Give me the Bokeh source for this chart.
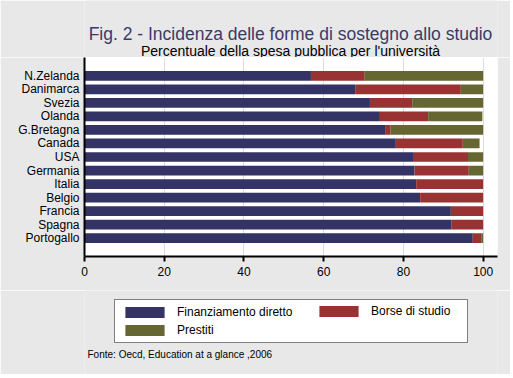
from bokeh.plotting import figure
from bokeh.layouts import column
from bokeh.models import (ColumnDataSource, FactorRange, Range1d, FixedTicker, Label,
                          Legend, LegendItem)
from bokeh.embed import file_html
from bokeh.resources import INLINE

countries = ["N.Zelanda", "Danimarca", "Svezia", "Olanda", "G.Bretagna", "Canada", "USA",
             "Germania", "Italia", "Belgio", "Francia", "Spagna", "Portogallo"]
finanziamento = [56.8, 67.9, 71.6, 74.1, 75.4, 78.1, 82.4, 82.8, 83.2, 84.2, 91.9, 92.1, 97.4]
borse = [13.5, 26.5, 10.6, 12.1, 1.4, 16.8, 13.8, 13.6, 16.8, 15.8, 8.1, 7.9, 2.1]
prestiti = [29.7, 5.6, 17.8, 13.6, 23.2, 4.2, 3.8, 3.6, 0.0, 0.0, 0.0, 0.0, 0.5]
series = ["Finanziamento diretto", "Borse di studio", "Prestiti"]
colors = ["#333366", "#993333", "#666633"]
x_ticks = [0, 20, 40, 60, 80, 100]

FONT = "Liberation Sans"
BG = "#e8e8e8"
W = 510
LEFT = 84
RIGHT = 13


def blank(height):
    f = figure(width=W, height=height, output_backend="svg", toolbar_location=None,
               x_range=Range1d(0, 1), y_range=Range1d(0, 1),
               x_axis_location=None, y_axis_location=None,
               min_border_left=LEFT, min_border_right=RIGHT, min_border_top=0,
               min_border_bottom=0)
    f.background_fill_color = BG
    f.border_fill_color = BG
    f.outline_line_color = None
    f.xgrid.grid_line_color = None
    f.ygrid.grid_line_color = None
    return f


# ---- header -------------------------------------------------------------
top = blank(57)
top.add_layout(Label(x=206, y=24, x_units="screen", y_units="screen",
                     text="Fig. 2 - Incidenza delle forme di sostegno allo studio",
                     text_align="center", text_baseline="alphabetic",
                     text_font=FONT, text_font_size="17.5px", text_color="#3a3a6a"))
top.add_layout(Label(x=206, y=7, x_units="screen", y_units="screen",
                     text="Percentuale della spesa pubblica per l'università",
                     text_align="center", text_baseline="alphabetic",
                     text_font=FONT, text_font_size="14px", text_color="black"))

# ---- main chart -----------------------------------------------------------
source = ColumnDataSource(dict(country=countries, fin=finanziamento, bor=borse, pre=prestiti))
stackers = ["fin", "bor", "pre"]

p = figure(width=W, height=233, output_backend="svg", toolbar_location=None,
           y_range=FactorRange(factors=list(reversed(countries)), range_padding=0.85,
                               range_padding_units="absolute"),
           x_range=Range1d(0, 103.6),
           min_border_left=LEFT, min_border_right=RIGHT, min_border_top=0,
           min_border_bottom=34)
p.background_fill_color = "white"
p.border_fill_color = BG
p.outline_line_color = None

p.hbar_stack(stackers, y="country", height=0.72, color=colors,
             line_color=None, source=source)

p.xaxis.ticker = FixedTicker(ticks=x_ticks)
p.xaxis.axis_line_color = "black"
p.xaxis.axis_line_width = 2
p.xaxis.major_tick_out = 5
p.xaxis.major_tick_in = 0
p.xaxis.major_tick_line_width = 2
p.xaxis.minor_tick_line_color = None
p.xaxis.major_label_text_font = FONT
p.xaxis.major_label_text_font_size = "12px"
p.xaxis.major_label_text_color = "black"
p.xaxis.major_label_standoff = 5

p.yaxis.axis_line_color = "black"
p.yaxis.axis_line_width = 2
p.yaxis.major_tick_line_color = None
p.yaxis.major_tick_out = 0
p.yaxis.major_tick_in = 0
p.yaxis.minor_tick_line_color = None
p.yaxis.major_label_text_font = FONT
p.yaxis.major_label_text_font_size = "12px"
p.yaxis.major_label_text_color = "black"
p.yaxis.major_label_standoff = 5

p.xgrid.grid_line_color = "#dcdcdc"
p.ygrid.grid_line_color = None

# ---- footer: legend and source --------------------------------------------
bottom = blank(84)
# hidden copies of the series, used only as legend glyph sources
proxies = bottom.hbar_stack(stackers, y="country", height=0.72, color=colors,
                            line_color=None, source=source)
for r in proxies:
    r.visible = False

common = dict(padding=5, spacing=4, margin=0, label_standoff=8, glyph_width=49,
              glyph_height=14, label_height=14, label_text_font=FONT,
              label_text_font_size="12px", label_text_color="black",
              click_policy="none", inactive_fill_alpha=0.0)
leg1 = Legend(items=[LegendItem(label=series[0], renderers=[proxies[0]]),
                     LegendItem(label=series[2], renderers=[proxies[2]])],
              location=(30, 31), orientation="vertical", label_width=285,
              border_line_color="black", border_line_width=1,
              background_fill_color="white", background_fill_alpha=1.0, **common)
leg2 = Legend(items=[LegendItem(label=series[1], renderers=[proxies[1]])],
              location=(230, 56), orientation="vertical",
              border_line_color=None, background_fill_alpha=0.0, **common)
bottom.add_layout(leg1)
bottom.add_layout(leg2)
bottom.add_layout(Label(x=3, y=20, x_units="screen", y_units="screen",
                        text="Fonte: Oecd, Education at a glance ,2006",
                        text_align="left", text_baseline="alphabetic",
                        text_font=FONT, text_font_size="10px", text_color="black"))

layout = column(top, p, bottom, spacing=0)
open("out.html", "w").write(file_html(layout, INLINE))
